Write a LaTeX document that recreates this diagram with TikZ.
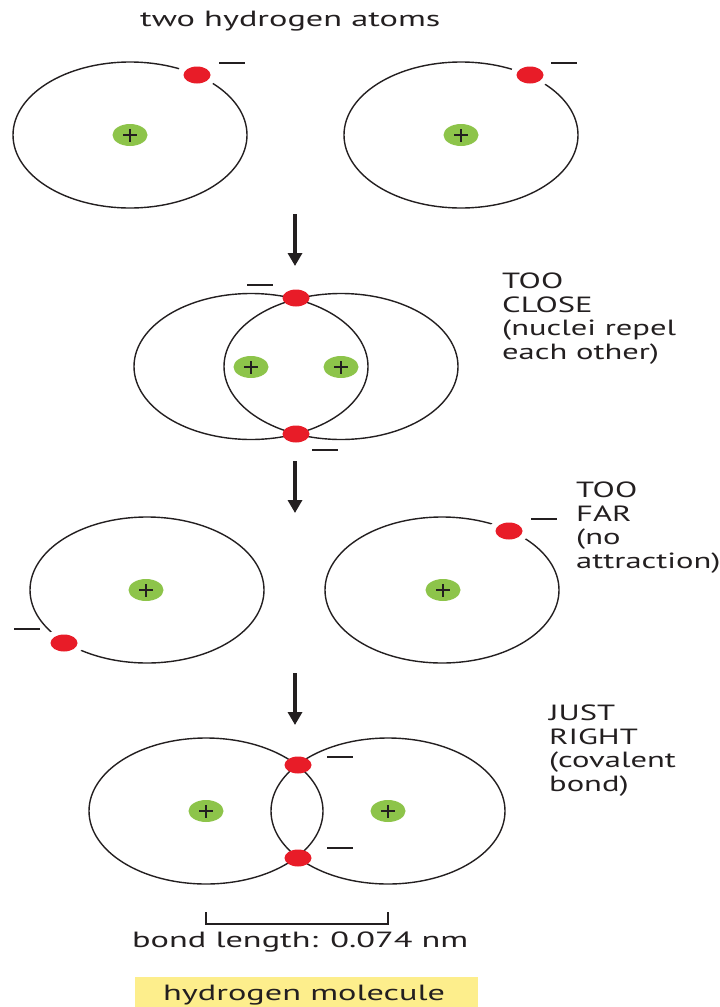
\documentclass[tikz,border=0pt]{standalone}
\usepackage{fontspec}
\setmainfont[FakeStretch=1.56]{PT Sans}
\newfontfamily\sidefont[FakeStretch=1.48]{PT Sans}
\usetikzlibrary{shapes.geometric,arrows.meta}
\definecolor{elred}{RGB}{232,28,40}
\definecolor{nucgreen}{RGB}{141,196,74}
\definecolor{labelyellow}{RGB}{253,238,140}
\definecolor{ink}{RGB}{35,31,32}
\tikzset{
  orbit/.style={ellipse,draw=ink,line width=1.4pt,inner sep=0pt,
    minimum width=234pt,minimum height=146pt},
  electron/.style={ellipse,fill=elred,inner sep=0pt,
    minimum width=27pt,minimum height=17pt},
  gapped/.style={electron,preaction={draw=white,line width=12pt}},
  nucleus/.style={ellipse,fill=nucgreen,inner sep=0pt,
    minimum width=35pt,minimum height=22pt,
    path picture={
      \draw[ink,line width=2.5pt]
        ([xshift=-7pt]path picture bounding box.center) --
        ([xshift=7pt]path picture bounding box.center);
      \draw[ink,line width=2.5pt]
        ([yshift=-6.5pt]path picture bounding box.center) --
        ([yshift=6.5pt]path picture bounding box.center);}},
  charge/.style={rectangle,fill=ink,inner sep=0pt,
    minimum width=26pt,minimum height=1.6pt},
  label/.style={text=ink,inner sep=0pt,font=\fontsize{22}{23.5}\selectfont},
  sidelabel/.style={label,anchor=base west,align=left,
    font=\sidefont\fontsize{22}{23.5}\selectfont},
  steparrow/.style={draw=ink,line width=3.5pt,
    -{Triangle[width=14pt,length=13pt]}},
}
\begin{document}
\begin{tikzpicture}[x=1pt,y=-1pt]
\useasboundingbox (0,0) rectangle (720,1007);

% title
\node[label,anchor=base west] (title) at (140,26) {two hydrogen atoms};

% ---- two separate atoms ----
\node[orbit] (o1) at (130,135) {};
\node[orbit] (o2) at (461,135) {};
\node[nucleus] (n1) at (130,135) {};
\node[nucleus] (n2) at (461,135) {};
\node[gapped] (e1) at (197,75) {};
\node[gapped] (e2) at (530,75) {};
\node[charge] (c1) at (232,63) {};
\node[charge] (c2) at (564,63) {};

\coordinate (a1s) at (295,214);
\coordinate (a1e) at (295,266);
\draw[steparrow] (a1s) -- (a1e);

% ---- too close ----
\node[orbit] (o3) at (251,366.5) {};
\node[orbit] (o4) at (341,366.5) {};
\node[nucleus] (n3) at (251,367) {};
\node[nucleus] (n4) at (341,367) {};
\node[electron] (e3) at (296,298) {};
\node[electron] (e4) at (296,434) {};
\node[charge] (c3) at (259.5,285) {};
\node[charge] (c4) at (325,450) {};
\node[sidelabel] (close) at (502,359)
  {TOO\\CLOSE\\(nuclei repel\\each other)};

\coordinate (a2s) at (295,461);
\coordinate (a2e) at (295,513);
\draw[steparrow] (a2s) -- (a2e);

% ---- too far ----
\node[orbit] (o5) at (147,590) {};
\node[orbit] (o6) at (442,590) {};
\node[nucleus] (n5) at (146,590) {};
\node[nucleus] (n6) at (443,590) {};
\node[gapped] (e5) at (64,643) {};
\node[gapped] (e6) at (509,531) {};
\node[charge] (c5) at (26.5,629) {};
\node[charge] (c6) at (543.5,519) {};
\node[sidelabel] (far) at (576,568)
  {TOO\\FAR\\(no\\attraction)};

\coordinate (a3s) at (295,673);
\coordinate (a3e) at (295,725);
\draw[steparrow] (a3s) -- (a3e);

% ---- just right ----
\node[orbit] (o7) at (206,811) {};
\node[orbit] (o8) at (388,811) {};
\node[nucleus] (n7) at (206,811) {};
\node[nucleus] (n8) at (388,811) {};
\node[electron] (e7) at (298,765) {};
\node[electron] (e8) at (298,858) {};
\node[charge] (c7) at (340,757) {};
\node[charge] (c8) at (340,848) {};
\node[sidelabel] (right) at (549,791)
  {JUST\\RIGHT\\(covalent\\bond)};

% bond length bracket between the two nuclei
\coordinate (bl) at (206,924);
\coordinate (br) at (388,924);
\draw[ink,line width=1.5pt] ([yshift=12pt]bl) -- (bl) -- (br) -- ([yshift=12pt]br);
\node[label,anchor=base west] (bond) at (132,947) {bond length: 0.074 nm};

% caption box
\node[fill=labelyellow,inner sep=0pt,minimum width=343pt,minimum height=36pt,
  anchor=north west] (box) at (135,977) {};
\node[label,anchor=base west] (mol) at (163,1000) {hydrogen molecule};
\end{tikzpicture}
\end{document}
